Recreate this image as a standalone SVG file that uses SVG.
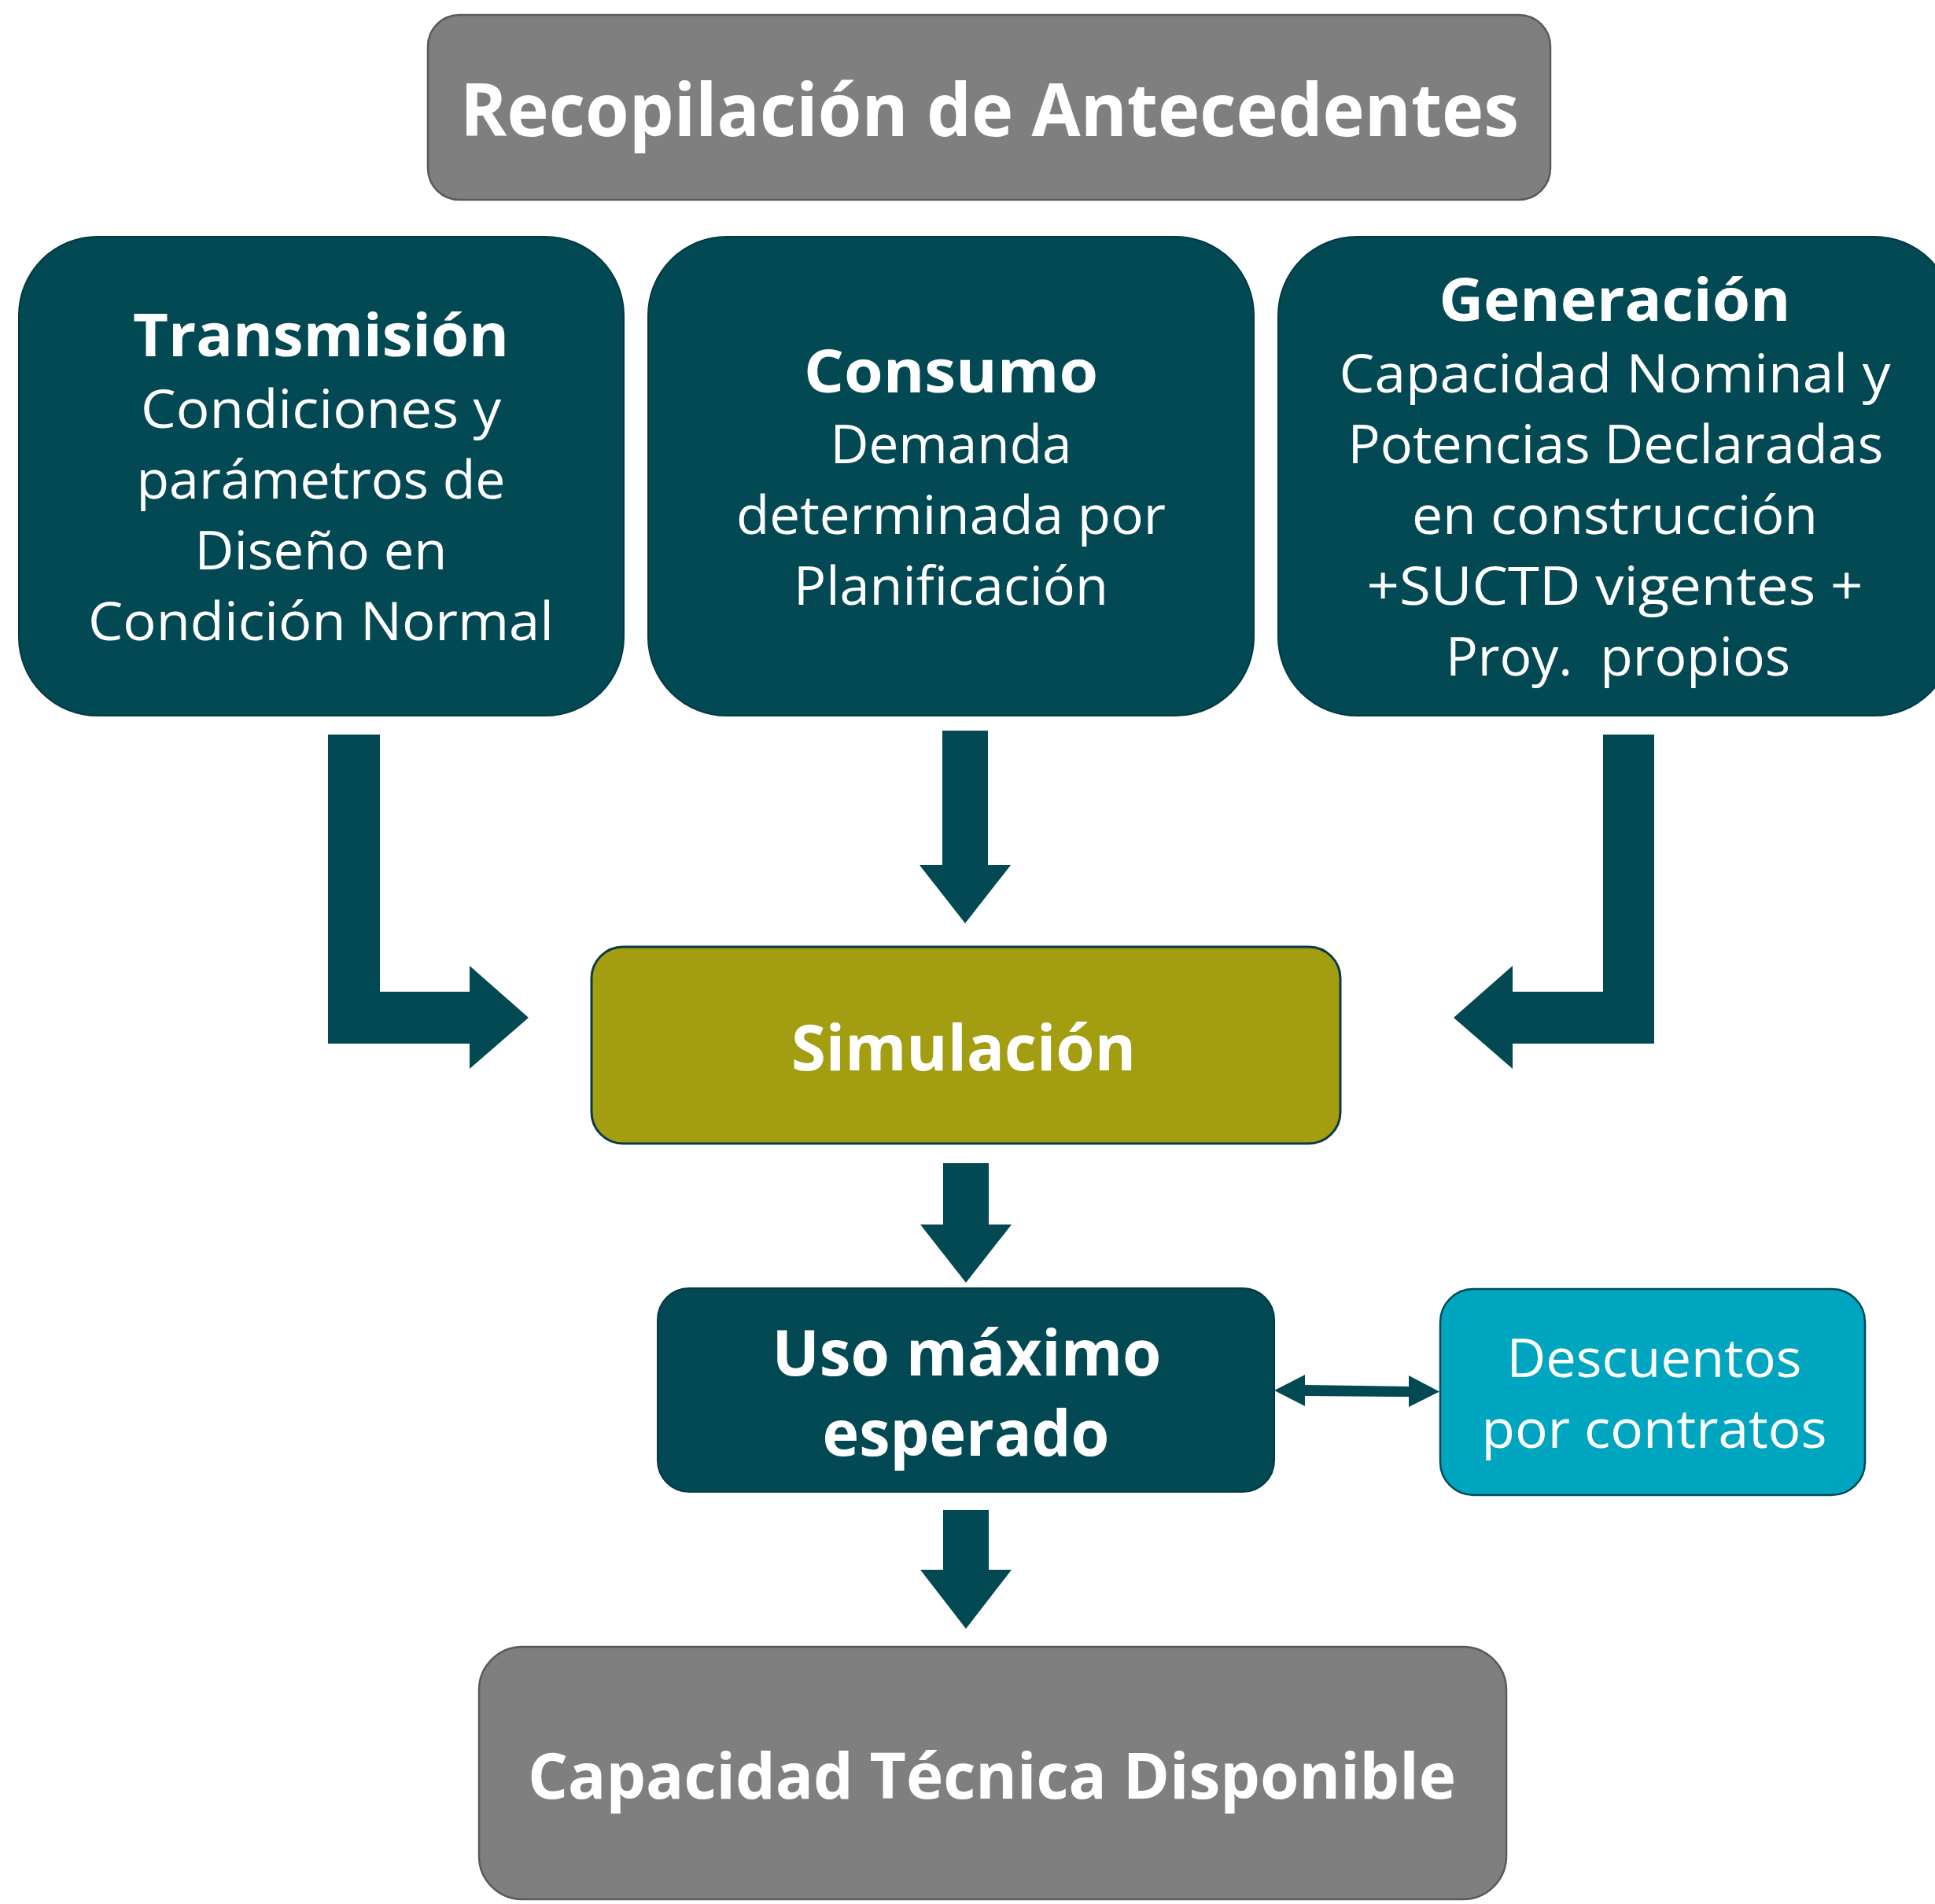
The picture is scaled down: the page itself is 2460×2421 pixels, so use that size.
<svg xmlns="http://www.w3.org/2000/svg" width="2460" height="2421" viewBox="0 0 2460 2421">
<style>
.gray{fill:#7F7F7F;stroke:#5A5A5A;stroke-width:2.5}
.teal{fill:#024954;stroke:#023A44;stroke-width:2}
.olive{fill:#A39D12;stroke:#0B3A45;stroke-width:3}
.cyan{fill:#00A5C0;stroke:#034A56;stroke-width:2.5}
.conn{fill:#024954}
text{font-family:"Open Sans","Noto Sans","Liberation Sans",sans-serif;fill:#FFFFFF;text-anchor:middle}
.b{font-weight:700}
.t1{font-size:93px}
.t2{font-size:76px}
.t3{font-size:80px}
.r{font-size:68px;font-weight:400}
</style>
<rect width="2460" height="2421" fill="#FFFFFF"/>
<g id="connectors">
<polygon class="conn" points="417,934 483,934 483,1261 597,1261 597,1228 672,1294 597,1359 597,1327 417,1327"/>
<polygon class="conn" points="1198,929 1256,929 1256,1100 1285,1100 1227,1174 1169,1100 1198,1100"/>
<polygon class="conn" points="2103,934 2038,934 2038,1261 1923,1261 1923,1228 1848,1294 1923,1359 1923,1327 2103,1327"/>
<polygon class="conn" points="1199,1479 1257,1479 1257,1557 1286,1557 1228,1631 1170,1557 1199,1557"/>
<polygon class="conn" points="1199,1920 1257,1920 1257,1996 1286,1996 1228,2071 1170,1996 1199,1996"/>
<polygon class="conn" points="1620,1768 1659,1748 1659,1761 1791,1763 1791,1749 1830,1769.5 1791,1789 1791,1776 1659,1775 1659,1788"/>
</g>
<g id="recopilacion">
<rect class="gray" x="544" y="19" width="1427" height="235" rx="40"/>
<text class="b t1" x="1258" y="173" textLength="1346" lengthAdjust="spacingAndGlyphs">Recopilación de Antecedentes</text>
</g>
<g id="transmision">
<rect class="teal" x="24" y="301" width="769" height="609" rx="100"/>
<text class="b t2" x="408" y="453" textLength="478" lengthAdjust="spacingAndGlyphs">Transmisión</text>
<text class="r" x="408" y="544" textLength="458" lengthAdjust="spacingAndGlyphs">Condiciones y</text>
<text class="r" x="408" y="634" textLength="469" lengthAdjust="spacingAndGlyphs">parámetros de</text>
<text class="r" x="408" y="724" textLength="321" lengthAdjust="spacingAndGlyphs">Diseño en</text>
<text class="r" x="408" y="814" textLength="592" lengthAdjust="spacingAndGlyphs">Condición Normal</text>
</g>
<g id="consumo">
<rect class="teal" x="824" y="301" width="770" height="609" rx="100"/>
<text class="b t2" x="1209" y="499" textLength="374" lengthAdjust="spacingAndGlyphs">Consumo</text>
<text class="r" x="1209" y="589" textLength="307" lengthAdjust="spacingAndGlyphs">Demanda</text>
<text class="r" x="1209" y="679" textLength="546" lengthAdjust="spacingAndGlyphs">determinada por</text>
<text class="r" x="1209" y="769" textLength="400" lengthAdjust="spacingAndGlyphs">Planificación</text>
</g>
<g id="generacion">
<rect class="teal" x="1625" y="301" width="858" height="609" rx="100"/>
<text class="b t2" x="2053" y="408" textLength="447" lengthAdjust="spacingAndGlyphs">Generación</text>
<text class="r" x="2053" y="499" textLength="701" lengthAdjust="spacingAndGlyphs">Capacidad Nominal y</text>
<text class="r" x="2054" y="589" textLength="681" lengthAdjust="spacingAndGlyphs">Potencias Declaradas</text>
<text class="r" x="2053" y="679" textLength="516" lengthAdjust="spacingAndGlyphs">en construcción</text>
<text class="r" x="2053" y="769" textLength="631" lengthAdjust="spacingAndGlyphs">+SUCTD vigentes +</text>
<text class="r" x="2057" y="859" textLength="438" lengthAdjust="spacingAndGlyphs" xml:space="preserve">Proy.  propios</text>
</g>
<g id="simulacion">
<rect class="olive" x="752" y="1204" width="952" height="250" rx="40"/>
<text class="b t3" x="1225" y="1361" textLength="438" lengthAdjust="spacingAndGlyphs">Simulación</text>
</g>
<g id="uso-maximo">
<rect class="teal" x="836" y="1638" width="784" height="259" rx="40"/>
<text class="b t3" x="1229" y="1749" textLength="495" lengthAdjust="spacingAndGlyphs">Uso máximo</text>
<text class="b t3" x="1228" y="1851" textLength="365" lengthAdjust="spacingAndGlyphs">esperado</text>
</g>
<g id="descuentos">
<rect class="cyan" x="1831" y="1639" width="540" height="262" rx="42"/>
<text class="r" x="2103" y="1751" textLength="375" lengthAdjust="spacingAndGlyphs">Descuentos</text>
<text class="r" x="2103" y="1841" textLength="439" lengthAdjust="spacingAndGlyphs">por contratos</text>
</g>
<g id="capacidad">
<rect class="gray" x="609" y="2094" width="1306" height="321" rx="55"/>
<text class="b t3" x="1261" y="2287" textLength="1180" lengthAdjust="spacingAndGlyphs">Capacidad Técnica Disponible</text>
</g>
</svg>
